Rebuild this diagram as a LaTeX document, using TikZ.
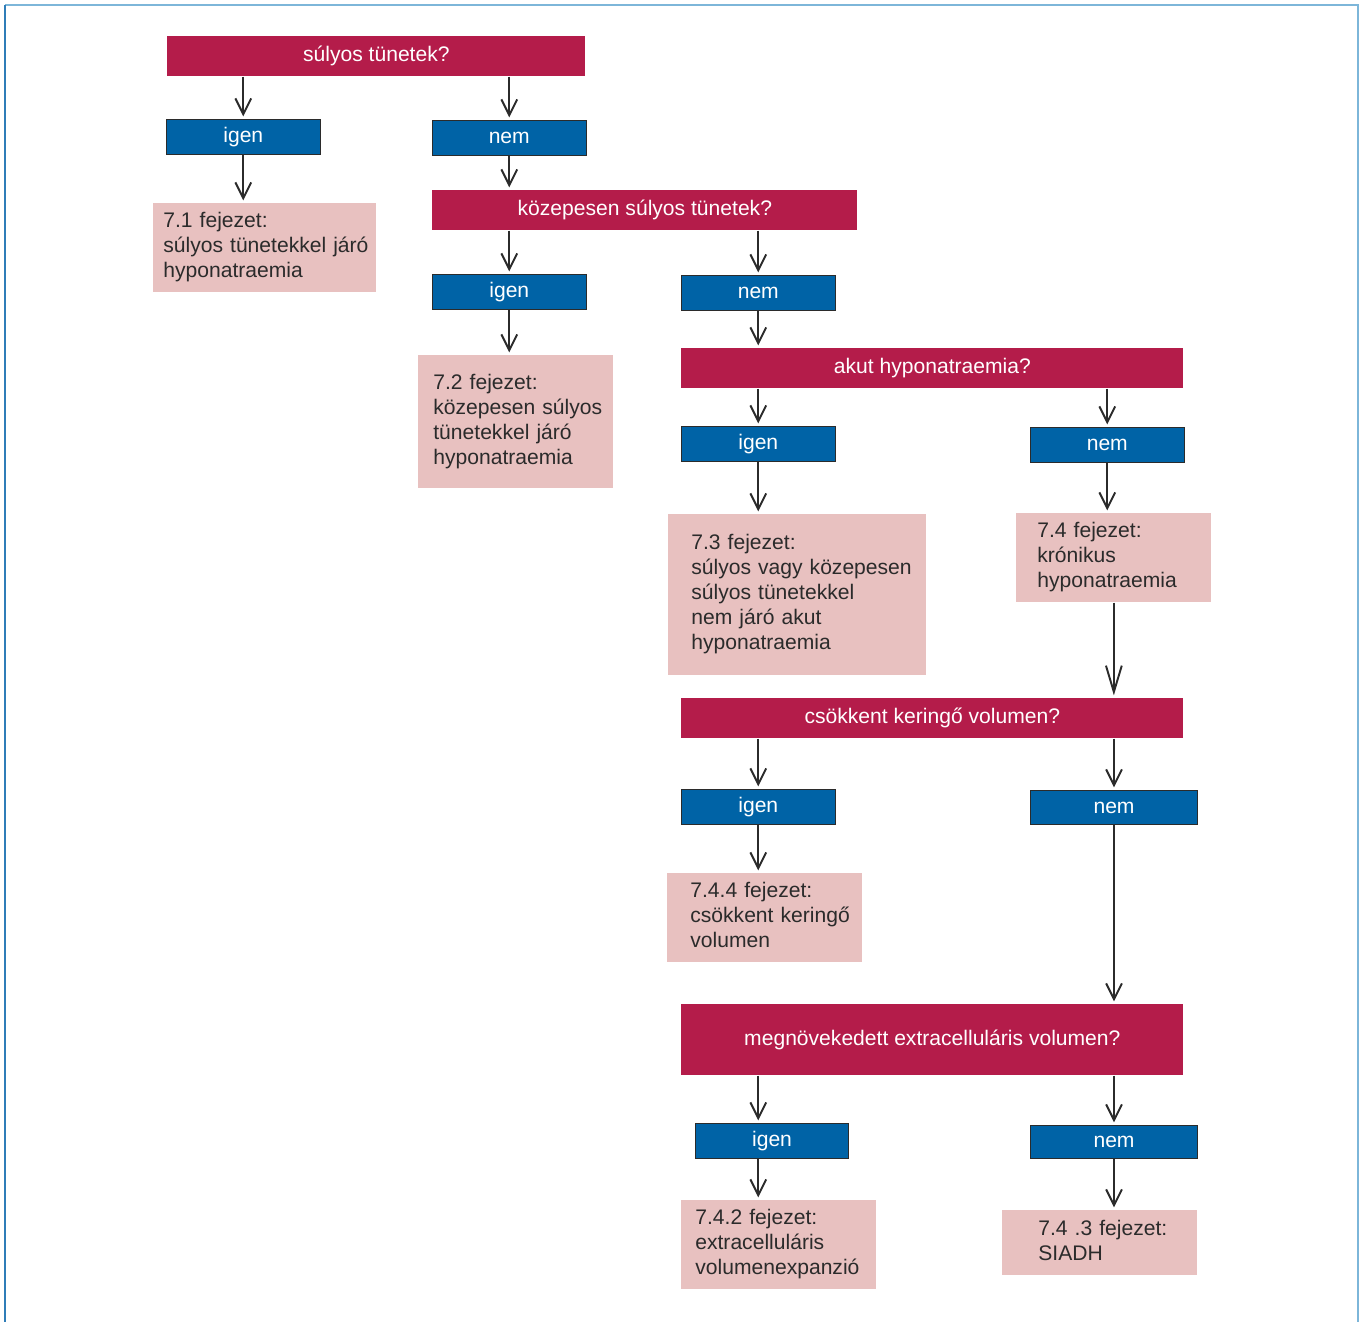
\documentclass[tikz,border=0pt]{standalone}
\usepackage{fontspec}
\setmainfont{Liberation Sans}
\usepackage{tikz}
\usetikzlibrary{arrows.meta, positioning}
\definecolor{QuestionRed}{HTML}{B41C4A}
\definecolor{AnswerBlue}{HTML}{0063A6}
\definecolor{ChapterPink}{HTML}{E8C1C0}
\definecolor{FrameBlue}{HTML}{7DB6D9}
\definecolor{FrameDark}{HTML}{2F7DB8}
\definecolor{LineGray}{HTML}{2B2B2B}
\newcommand{\chaplines}[1]{\begin{tabular}{@{}l@{}}#1\end{tabular}}

\begin{document}
\begin{tikzpicture}[>={Straight Barb[length=9pt, width=9pt]},
    every node/.style={font=\fontsize{12}{14.2}\selectfont, inner sep=0pt, anchor=north west},
    question/.style={fill=QuestionRed, text=white, minimum height=0.8cm},
    answer/.style={fill=AnswerBlue, draw=LineGray, line width=0.6pt, text=white, minimum width=3.07cm, minimum height=0.7cm},
    chapter/.style={fill=ChapterPink, text=LineGray, align=left, minimum height=1.78cm},
    arr/.style={->, line width=1.1pt, LineGray, shorten >=1.5pt}]
  \useasboundingbox (0,0) rectangle (27.26,-26.44);
  % frame
  \draw[FrameBlue, line width=1.2pt] (0.10,-0.10) -- (27.16,-0.10) -- (27.16,-26.44);
  \draw[FrameDark, line width=1.2pt] (0.10,-0.10) -- (0.10,-26.44);

  % first level
  \node[question, minimum width=8.36cm] (q1) at (3.34,-0.72) {súlyos tünetek?};
  \node[answer] (igen1) at (3.32,-2.38) {igen};
  \node[answer] (nem1) at (8.64,-2.40) {nem};
  \node[chapter, text width=4.06cm, inner xsep=0.20cm] (r1) at (3.06,-4.06) {\chaplines{7.1 fejezet:\\súlyos tünetekkel járó\\hyponatraemia}};

  % second level
  \node[question, minimum width=8.50cm] (q2) at (8.64,-3.80) {közepesen súlyos tünetek?};
  \node[answer] (igen2) at (8.64,-5.48) {igen};
  \node[answer] (nem2) at (13.62,-5.50) {nem};
  \node[chapter, text width=3.30cm, inner xsep=0.30cm, minimum height=2.66cm] (r2) at (8.36,-7.10) {\chaplines{7.2 fejezet:\\közepesen súlyos\\tünetekkel járó\\hyponatraemia}};

  % third level
  \node[question, minimum width=10.04cm] (q3) at (13.62,-6.96) {akut hyponatraemia?};
  \node[answer] (igen3) at (13.62,-8.52) {igen};
  \node[answer] (nem3) at (20.60,-8.54) {nem};
  \node[chapter, text width=4.24cm, inner xsep=0.46cm, minimum height=3.22cm] (r3) at (13.36,-10.28) {\chaplines{7.3 fejezet:\\súlyos vagy közepesen\\súlyos tünetekkel\\nem járó akut\\hyponatraemia}};
  \node[chapter, text width=3.06cm, inner xsep=0.42cm] (r4) at (20.32,-10.26) {\chaplines{7.4 fejezet:\\krónikus\\hyponatraemia}};

  % chronic branch
  \node[question, minimum width=10.04cm] (q4) at (13.62,-13.96) {csökkent keringő volumen?};
  \node[answer] (igen4) at (13.62,-15.78) {igen};
  \node[answer, minimum width=3.34cm, minimum height=0.68cm] (nem4) at (20.60,-15.80) {nem};
  \node[chapter, text width=2.98cm, inner xsep=0.46cm] (r5) at (13.34,-17.46) {\chaplines{7.4.4 fejezet:\\csökkent keringő\\volumen}};

  \node[question, minimum width=10.04cm, minimum height=1.42cm] (q5) at (13.62,-20.08) {megnövekedett extracelluláris volumen?};
  \node[answer, minimum width=3.06cm] (igen5) at (13.90,-22.46) {igen};
  \node[answer, minimum width=3.34cm, minimum height=0.66cm] (nem5) at (20.60,-22.50) {nem};
  \node[chapter, text width=3.34cm, inner xsep=0.28cm] (r6) at (13.62,-24.00) {\chaplines{7.4.2 fejezet:\\extracelluláris\\volumenexpanzió}};
  \node[chapter, text width=2.46cm, inner xsep=0.72cm, minimum height=1.30cm] (r7) at (20.04,-24.20) {\chaplines{7.4 .3 fejezet:\\SIADH}};

  % connectors
  \draw[arr] (q1.south -| igen1) -- (igen1.north);
  \draw[arr] (q1.south -| nem1) -- (nem1.north);
  \draw[arr] (igen1.south) -- (r1.north -| igen1);
  \draw[arr] (nem1.south) -- (q2.north -| nem1);
  \draw[arr] (q2.south -| igen2) -- (igen2.north);
  \draw[arr] (q2.south -| nem2) -- (nem2.north);
  \draw[arr] (igen2.south) -- (r2.north -| igen2);
  \draw[arr] (nem2.south) -- (q3.north -| nem2);
  \draw[arr] (q3.south -| igen3) -- (igen3.north);
  \draw[arr] (q3.south -| nem3) -- (nem3.north);
  \draw[arr] (igen3.south) -- (r3.north -| igen3);
  \draw[arr] (nem3.south) -- (r4.north -| nem3);
  \draw[arr, -{Straight Barb[length=15pt, width=9pt]}] (r4.south) -- (q4.north -| r4);
  \draw[arr] (q4.south -| igen4) -- (igen4.north);
  \draw[arr] (q4.south -| nem4) -- (nem4.north);
  \draw[arr] (igen4.south) -- (r5.north -| igen4);
  \draw[arr] (nem4.south) -- (q5.north -| nem4);
  \draw[arr] (q5.south -| igen4) -- (igen5.north -| igen4);
  \draw[arr] (q5.south -| nem5) -- (nem5.north);
  \draw[arr] (igen5.south -| igen4) -- (r6.north -| igen4);
  \draw[arr] (nem5.south) -- (r7.north -| nem5);
\end{tikzpicture}
\end{document}
